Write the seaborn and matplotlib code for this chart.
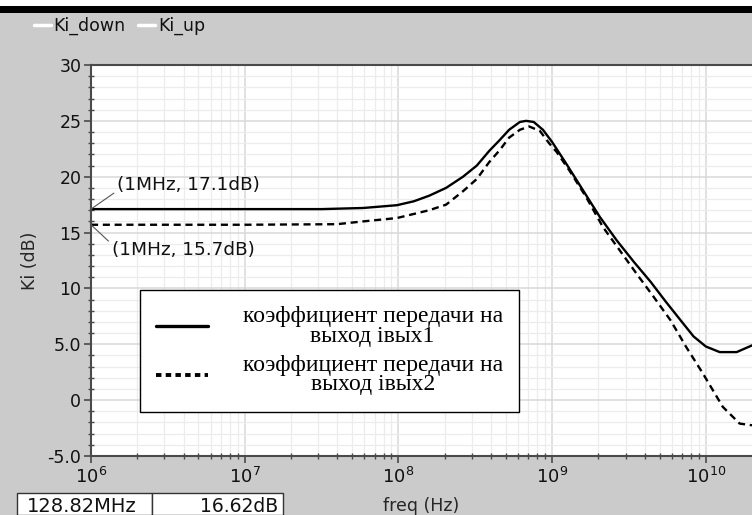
import numpy as np
import pandas as pd
import matplotlib
matplotlib.use("Agg")
import matplotlib.pyplot as plt
from matplotlib.lines import Line2D
from matplotlib.patches import Rectangle
from matplotlib.ticker import LogLocator, MultipleLocator, NullFormatter
import seaborn as sns

# values (log10 of frequency in Hz, gain in dB)
logf_out1 = [6.0, 7.0, 7.5, 7.77, 7.99, 8.1, 8.2, 8.31, 8.42, 8.51, 8.59, 8.66, 8.72,
             8.79, 8.83, 8.88, 8.94, 9.0, 9.09, 9.2, 9.31, 9.42, 9.53, 9.64, 9.74,
             9.85, 9.92, 10.0, 10.09, 10.2, 10.3]
ki_out1 = [17.1, 17.1, 17.1, 17.2, 17.45, 17.8, 18.3, 19.0, 20.0, 21.0, 22.3, 23.3, 24.2,
           24.9, 25.0, 24.9, 24.2, 23.1, 21.2, 18.8, 16.4, 14.3, 12.4, 10.6, 8.8,
           6.9, 5.7, 4.8, 4.3, 4.3, 4.9]

logf_out2 = [6.0, 7.0, 7.6, 7.77, 7.99, 8.2, 8.31, 8.42, 8.51, 8.59, 8.66, 8.72, 8.79,
             8.85, 8.92, 8.98, 9.03, 9.11, 9.22, 9.33, 9.44, 9.55, 9.66, 9.77, 9.87,
             9.98, 10.11, 10.22, 10.3]
ki_out2 = [15.7, 15.7, 15.75, 16.0, 16.3, 17.0, 17.5, 18.7, 19.8, 21.3, 22.4, 23.5, 24.2,
           24.5, 24.1, 23.0, 22.2, 20.6, 18.2, 15.5, 13.4, 11.3, 9.25, 7.15, 4.8,
           2.4, -0.6, -2.1, -2.25]

legend_labels = ["коэффициент передачи на\nвыход iвых1",
                 "коэффициент передачи на\nвыход iвых2"]
yticks = [-5, 0, 5, 10, 15, 20, 25, 30]
ytick_labels = ["-5.0", "0", "5.0", "10", "15", "20", "25", "30"]

df1 = pd.DataFrame({"freq": 10 ** np.array(logf_out1), "ki": ki_out1})
df2 = pd.DataFrame({"freq": 10 ** np.array(logf_out2), "ki": ki_out2})

sns.set_style("ticks")
plt.rcParams["font.family"] = ["DejaVu Sans"]
plt.rcParams["text.color"] = "#111111"
bg = "#cbcbcb"

fig = plt.figure(figsize=(7.52, 5.15), dpi=100, facecolor=bg)
# white strip + black band at the very top
fig.patches.append(Rectangle((0, 1 - 6 / 515), 1, 6 / 515, transform=fig.transFigure,
                             facecolor="white", edgecolor="none"))
fig.patches.append(Rectangle((0, 1 - 13 / 515), 1, 7 / 515, transform=fig.transFigure,
                             facecolor="black", edgecolor="none"))

ax = fig.add_axes([91 / 752, 59 / 515, 661 / 752, 391 / 515])
ax.set_facecolor("white")

sns.lineplot(data=df1, x="freq", y="ki", ax=ax, color="black", lw=1.7)
sns.lineplot(data=df2, x="freq", y="ki", ax=ax, color="black", lw=1.7)
ax.lines[-1].set_dashes([3, 2])

ax.set_xscale("log")
ax.set_xlim(1e6, 10 ** 10.3)
ax.set_ylim(-5, 30)
ax.set_yticks(yticks)
ax.set_yticklabels(ytick_labels)
ax.yaxis.set_minor_locator(MultipleLocator(1))
ax.xaxis.set_major_locator(LogLocator(base=10))
ax.xaxis.set_minor_locator(LogLocator(base=10, subs=np.arange(2, 10)))
ax.xaxis.set_minor_formatter(NullFormatter())

ax.grid(which="major", color="#d8d8d8", lw=1.1)
ax.grid(which="minor", color="#ececec", lw=0.9)
ax.set_axisbelow(True)

for s in ["left", "bottom", "top"]:
    ax.spines[s].set_color("#4a4a4a")
    ax.spines[s].set_linewidth(1.5)
ax.spines["right"].set_visible(False)
ax.tick_params(which="major", direction="out", length=5, width=1.2, color="#4a4a4a",
               labelsize=12.5, pad=2, labelcolor="#111111")
ax.tick_params(which="minor", direction="inout", length=4, width=1.0, color="#4a4a4a")
ax.tick_params(axis="x", which="major", labelsize=13, pad=3)

ax.set_xlabel("freq (Hz)", fontsize=12.5, labelpad=7)
ax.set_ylabel("Ki (dB)", fontsize=12.5, labelpad=6)

# markers at 1 MHz
ax.annotate("(1MHz, 17.1dB)", xy=(1e6, 17.1), xytext=(10 ** 6.17, 19.3),
            fontsize=13.3, ha="left", va="center",
            arrowprops=dict(arrowstyle="-", color="#555555", lw=0.8,
                            shrinkA=0, shrinkB=0, relpos=(0, 0.15)))
ax.annotate("(1MHz, 15.7dB)", xy=(1e6, 15.7), xytext=(10 ** 6.135, 13.4),
            fontsize=13.3, ha="left", va="center",
            arrowprops=dict(arrowstyle="-", color="#555555", lw=0.8,
                            shrinkA=0, shrinkB=0, relpos=(0, 0.85)))

# boxed legend inside the plot
handles = [Line2D([], [], color="black", lw=2.4),
           Line2D([], [], color="black", lw=2.8, dashes=[1.4, 1.1])]
leg = ax.legend(handles, legend_labels, loc="upper left", bbox_to_anchor=(0.074, 0.425),
                prop={"family": "Liberation Serif", "size": 17}, frameon=True,
                fancybox=False, edgecolor="black", framealpha=1, handlelength=2.2,
                handletextpad=1.45, borderpad=0.7, labelspacing=0.35, borderaxespad=0)
leg.get_frame().set_linewidth(1.0)
for t in leg.get_texts():
    t.set_multialignment("center")
    t.set_linespacing(0.9)
    t.set_color("black")

# series legend in the gray header
top_handles = [Line2D([], [], color="white", lw=2.5), Line2D([], [], color="white", lw=2.5)]
fig.legend(top_handles, ["Ki_down", "Ki_up"], loc="center left",
           bbox_to_anchor=(18 / 752, 1 - 26 / 515), ncol=2, frameon=False, fontsize=12.5,
           handlelength=1.0, handletextpad=0.15, columnspacing=0.7)

# readout boxes at the bottom
fig.patches.append(Rectangle((17 / 752, 0), 135 / 752, 22 / 515, transform=fig.transFigure,
                             facecolor="white", edgecolor="#333333", lw=1.0))
fig.patches.append(Rectangle((152 / 752, 0), 131 / 752, 22 / 515, transform=fig.transFigure,
                             facecolor="white", edgecolor="#333333", lw=1.0))
fig.text(82 / 752, 8 / 515, "128.82MHz", fontsize=14, ha="center", va="center")
fig.text(278 / 752, 8 / 515, "16.62dB", fontsize=13.5, ha="right", va="center")

fig.savefig("out.png", dpi=100, facecolor=bg)
